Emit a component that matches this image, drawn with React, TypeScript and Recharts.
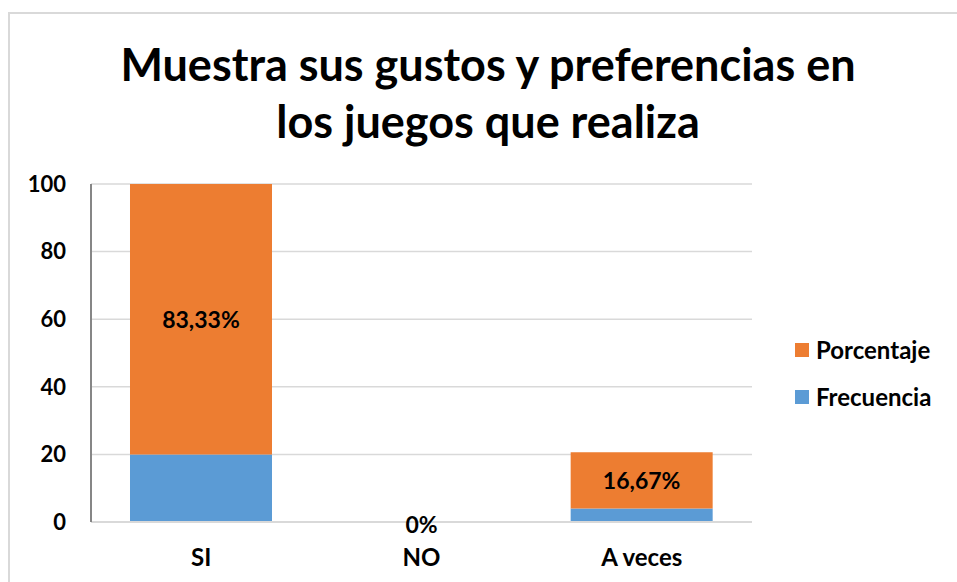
import React from 'react';
import { BarChart, Bar, XAxis, YAxis, CartesianGrid, LabelList, ReferenceDot } from 'recharts';

const categories = ['SI', 'NO', 'A veces'];
const frecuencia = [20, 0, 4];
const porcentaje = [83.33, 0, 16.67];
const yTicks = [0, 20, 40, 60, 80, 100];
const titleLines = ['Muestra sus gustos y preferencias en', 'los juegos que realiza'];
const seriesNames = ['Frecuencia', 'Porcentaje'];

const data = categories.map((c, i) => ({ name: c, Frecuencia: frecuencia[i], Porcentaje: porcentaje[i] }));

const FONT = 'Lato, "Open Sans", sans-serif';
const ORANGE = '#ED7D31';
const BLUE = '#5B9BD5';
const seriesColors = [BLUE, ORANGE];
const PLOT_TOP = 184;

const fmt = (v: number) => {
  const s = Number.isInteger(v) ? String(v) : v.toFixed(2).replace('.', ',');
  return s + '%';
};

const PctLabel = (props: any) => {
  const { x, y, width, height, value } = props;
  const bottom = y + height;
  const top = Math.max(y, PLOT_TOP);
  const cy = (top + bottom) / 2;
  return (
    <text x={x + width / 2} y={cy} textAnchor="middle" dominantBaseline="central"
      fontFamily={FONT} fontWeight={700} fontSize={23} fill="#000">
      {fmt(value)}
    </text>
  );
};

const ZeroLabel = (props: any) => {
  const { viewBox, value } = props;
  const cx = viewBox.x + (viewBox.width || 0) / 2;
  const cy = viewBox.y + (viewBox.height || 0) / 2;
  return (
    <text x={cx} y={cy + 2} textAnchor="middle" dominantBaseline="central"
      fontFamily={FONT} fontWeight={700} fontSize={23} fill="#000">
      {value}
    </text>
  );
};

export default function App() {
  const legendItems = seriesNames.map((n, i) => ({ name: n, color: seriesColors[i] })).reverse();
  return (
    <div style={{ position: 'absolute', left: 0, top: 0, width: 957, height: 582, background: '#fff', overflow: 'hidden' }}>
      <div style={{ position: 'absolute', left: 8, top: 12, width: 960, height: 600, borderLeft: '2px solid #d9d9d9', borderTop: '2px solid #d9d9d9' }} />
      <svg style={{ position: 'absolute', left: 0, top: 0 }} width={957} height={160}>
        <text x={488} y={81} textAnchor="middle" fontFamily={FONT} fontWeight={700} fontSize={45} fill="#000">{titleLines[0]}</text>
        <text x={488} y={138} textAnchor="middle" fontFamily={FONT} fontWeight={700} fontSize={45} fill="#000">{titleLines[1]}</text>
      </svg>
      <div style={{ position: 'absolute', left: 0, top: 0 }}>
        <BarChart width={957} height={582} data={data} barCategoryGap="17.7%"
          margin={{ top: PLOT_TOP, right: 205, bottom: 0, left: 0 }}>
          <CartesianGrid vertical={false} stroke="#d9d9d9" strokeWidth={1.5} />
          <XAxis dataKey="name" height={60} axisLine={{ stroke: '#d9d9d9', strokeWidth: 2 }} tickLine={false} tickSize={0} tickMargin={27}
            tick={{ fontFamily: FONT, fontWeight: 700, fontSize: 24, fill: '#000' }} />
          <YAxis width={91} domain={[0, 100]} ticks={yTicks} allowDataOverflow
            axisLine={{ stroke: '#868686', strokeWidth: 2 }} tickLine={false} tickSize={0} tickMargin={25}
            tick={{ fontFamily: FONT, fontWeight: 700, fontSize: 22, fill: '#000' }} />
          <Bar dataKey="Frecuencia" stackId="a" fill={BLUE} isAnimationActive={false} />
          <Bar dataKey="Porcentaje" stackId="a" fill={ORANGE} isAnimationActive={false}>
            <LabelList dataKey="Porcentaje" content={<PctLabel />} />
          </Bar>
          {data.filter((d) => d.Porcentaje === 0 && d.Frecuencia === 0).map((d) => (
            <ReferenceDot key={d.name} x={d.name} y={0} r={0} stroke="none" fill="none" ifOverflow="visible"
              label={<ZeroLabel value={fmt(d.Porcentaje)} />} />
          ))}
        </BarChart>
      </div>
      <div style={{ position: 'absolute', left: 795, top: 326, fontFamily: FONT, fontWeight: 700, fontSize: 24, color: '#000' }}>
        {legendItems.map((it) => (
          <div key={it.name} style={{ display: 'flex', alignItems: 'center', height: 47, whiteSpace: 'nowrap' }}>
            <span style={{ display: 'inline-block', width: 14, height: 14, background: it.color, marginRight: 7 }} />
            <span>{it.name}</span>
          </div>
        ))}
      </div>
    </div>
  );
}
